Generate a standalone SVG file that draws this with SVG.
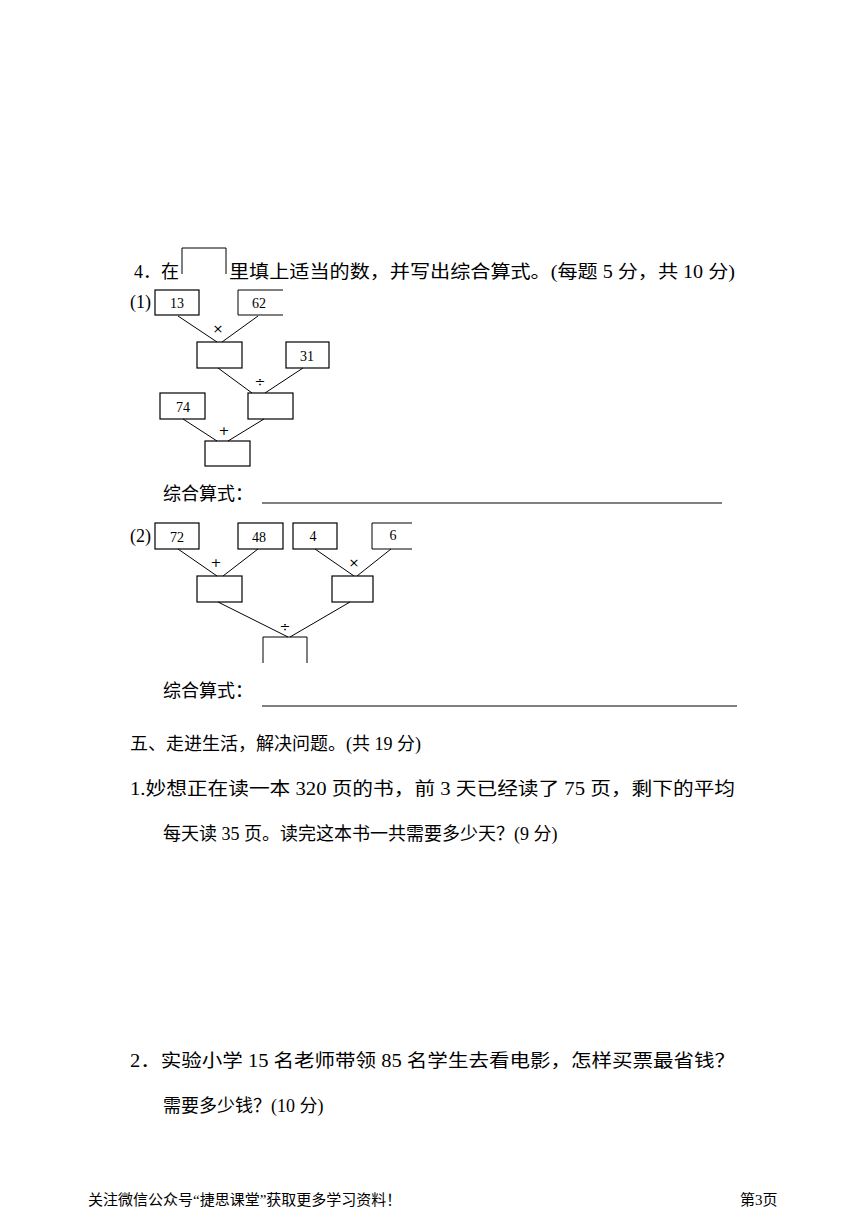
<svg xmlns="http://www.w3.org/2000/svg" width="868" height="1227" viewBox="0 0 868 1227">
<style>
.t{font-family:"Liberation Serif","Noto Sans CJK SC",serif;font-size:18px;fill:#000}
.n{font-family:"Liberation Serif",serif;font-size:14px;fill:#000;text-anchor:middle}
.o{font-family:"DejaVu Sans",sans-serif;font-size:13px;fill:#000;text-anchor:middle}
.b{fill:#fff;stroke:#000;stroke-width:1.2}
.l{stroke:#000;stroke-width:1;fill:none}
.f{font-family:"Liberation Serif","Noto Sans CJK SC",serif;font-size:15px;fill:#000}
</style>
<rect width="868" height="1227" fill="#fff"/>
<text class="t" x="134" y="278">4．在</text>
<path class="l" d="M182,274V248H226V274"/>
<text class="t" x="229" y="278" textLength="506" lengthAdjust="spacingAndGlyphs">里填上适当的数，并写出综合算式。(每题 5 分，共 10 分)</text>
<text class="t" x="130" y="308">(1)</text>
<g id="n13"><rect class="b" x="155" y="290" width="44" height="25"/><text class="n" x="177" y="308">13</text></g>
<g id="n62"><path class="l" d="M283,290H238V315H283"/><text class="n" x="259" y="308">62</text></g>
<g id="m1"><rect class="b" x="197" y="342" width="45" height="26"/></g>
<g id="n31"><rect class="b" x="286" y="342" width="43" height="26"/><text class="n" x="307" y="361">31</text></g>
<g id="m2"><rect class="b" x="248" y="393" width="45" height="26"/></g>
<g id="n74"><rect class="b" x="160" y="393" width="45" height="26"/><text class="n" x="183" y="412">74</text></g>
<g id="m3"><rect class="b" x="205" y="441" width="45" height="25"/></g>
<g id="c1">
<path class="l" d="M178,316L217,342M258,316L222,342M218,368L252,393M303,368L265,393M183,419L217,441M264,419L228,441"/>
<text class="o" x="218" y="333">×</text><text class="o" x="260" y="386">÷</text><text class="o" x="224" y="435">+</text>
</g>
<text class="t" x="163" y="500">综合算式：</text>
<line class="l" x1="262" y1="503" x2="722" y2="503"/>
<text class="t" x="130" y="542">(2)</text>
<g id="n72"><rect class="b" x="155" y="523" width="44" height="26"/><text class="n" x="177" y="542">72</text></g>
<g id="n48"><rect class="b" x="238" y="523" width="45" height="26"/><text class="n" x="259" y="542">48</text></g>
<g id="n4"><rect class="b" x="293" y="523" width="44" height="26"/><text class="n" x="313" y="541">4</text></g>
<g id="n6"><path class="l" d="M412,523H372V549H412"/><text class="n" x="393" y="540">6</text></g>
<g id="m4"><rect class="b" x="197" y="576" width="45" height="26"/></g>
<g id="m5"><rect class="b" x="332" y="576" width="41" height="26"/></g>
<g id="m6"><path class="l" d="M263,663V637H307V663"/></g>
<g id="c2">
<path class="l" d="M178,549L217,576M258,549L223,576M315,549L354,576M391,549L357,576M218,602L288,637M350,602L290,637"/>
<text class="o" x="216" y="567">+</text><text class="o" x="354" y="567">×</text><text class="o" x="285" y="631">÷</text>
</g>
<text class="t" x="163" y="697">综合算式：</text>
<line class="l" x1="262" y1="706" x2="737" y2="706"/>
<text class="t" x="130" y="750">五、走进生活，解决问题。(共 19 分)</text>
<text class="t" x="130" y="795" textLength="605" lengthAdjust="spacingAndGlyphs">1.妙想正在读一本 320 页的书，前 3 天已经读了 75 页，剩下的平均</text>
<text class="t" x="163" y="840">每天读 35 页。读完这本书一共需要多少天？(9 分)</text>
<text class="t" x="130" y="1067" textLength="605" lengthAdjust="spacingAndGlyphs">2．实验小学 15 名老师带领 85 名学生去看电影，怎样买票最省钱？</text>
<text class="t" x="163" y="1112">需要多少钱？(10 分)</text>
<text class="f" x="88" y="1205">关注微信公众号“捷思课堂”获取更多学习资料！</text>
<text class="f" x="740" y="1205">第3页</text>
</svg>
